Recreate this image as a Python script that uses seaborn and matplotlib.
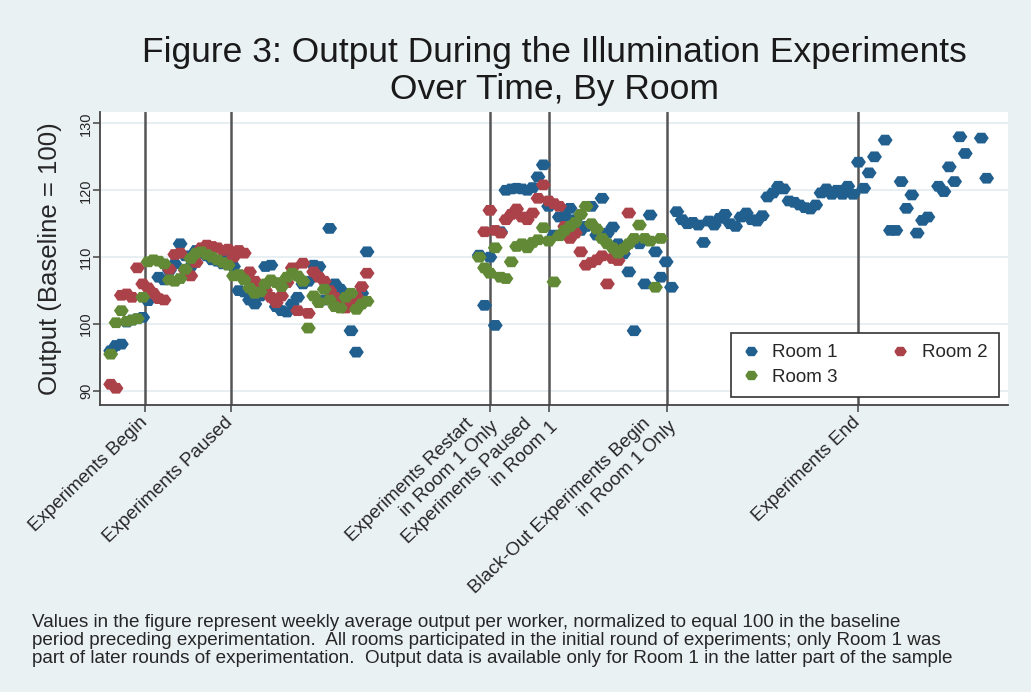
import matplotlib

matplotlib.use("Agg")

import matplotlib.pyplot as plt
import pandas as pd
import seaborn as sns
from matplotlib.lines import Line2D
from matplotlib.path import Path
from matplotlib.transforms import ScaledTranslation, blended_transform_factory


# weekly average output per worker (baseline = 100)
ROOM1_WEEKS = list(range(2, 51)) + list(range(71, 142)) + [
    142, 143, 144, 145, 147, 148, 149, 150, 151, 152, 153,
    154, 155, 157, 158, 159, 160, 161, 162, 165, 166,
]
ROOM1_OUTPUT = [
    # weeks 2-50
    96.0, 96.8, 97.0, 100.3, 100.6, 100.8, 101.0, 103.5, 104.0, 107.0,
    106.6, 108.0, 109.0, 112.0, 110.2, 108.6, 111.0, 110.6, 110.2, 109.6,
    109.4, 109.0, 110.0, 108.6, 105.0, 104.8, 103.6, 103.0, 104.2, 108.6,
    108.8, 102.6, 102.0, 101.8, 103.0, 104.0, 106.0, 106.4, 108.8, 108.6,
    103.6, 114.3, 106.0, 105.2, 104.0, 99.0, 95.8, 104.6, 110.8,
    # weeks 71-106
    110.3, 102.8, 110.0, 99.8, 113.8, 120.0, 120.2, 120.3, 120.2, 120.0,
    120.4, 122.0, 123.8, 117.6, 113.3, 116.0, 116.2, 117.3, 115.6, 114.0,
    114.6, 117.6, 113.3, 118.8, 113.6, 114.5, 112.0, 110.5, 107.8, 99.0,
    112.0, 106.0, 116.3, 110.8, 107.0, 109.3,
    # weeks 107-141
    105.5, 116.8, 115.6, 115.0, 115.2, 114.8, 112.2, 115.4, 114.8, 115.8,
    116.4, 115.0, 114.6, 116.0, 116.6, 115.6, 115.4, 116.2, 119.0, 119.6,
    120.6, 120.2, 118.4, 118.2, 117.8, 117.4, 117.2, 117.8, 119.6, 120.2,
    119.4, 120.0, 119.4, 120.6, 119.4,
    # weeks 142-166
    124.2, 120.3, 122.6, 125.0, 127.5, 114.0, 114.0, 121.3, 117.3, 119.3,
    113.6, 115.5, 116.0, 120.6, 119.8, 123.5, 121.3, 128.0, 125.5, 127.8,
    121.8,
]

ROOM2_WEEKS = list(range(2, 51)) + list(range(72, 100))
ROOM2_OUTPUT = [
    91.0, 90.4, 104.3, 104.5, 104.0, 108.4, 106.0, 105.4, 104.6, 103.8,
    103.6, 108.2, 110.4, 110.6, 108.0, 107.2, 109.2, 111.4, 111.8, 111.6,
    111.4, 111.0, 111.2, 110.0, 111.0, 110.6, 107.8, 106.4, 105.8, 105.0,
    104.0, 103.2, 104.2, 106.2, 108.4, 102.0, 109.1, 101.6, 107.8, 107.0,
    106.4, 105.0, 104.0, 103.0, 102.4, 103.4, 104.2, 105.6, 107.6,
    113.8, 117.0, 114.0, 113.6, 115.6, 116.4, 117.2, 116.0, 115.6, 116.6,
    118.8, 120.8, 118.4, 118.0, 117.6, 114.6, 112.8, 113.6, 110.8, 108.8,
    109.2, 109.6, 110.2, 106.0, 109.8, 109.5, 111.2, 116.6,
]

ROOM3_WEEKS = list(range(2, 51)) + list(range(71, 106))
ROOM3_OUTPUT = [
    95.5, 100.2, 102.0, 100.4, 100.6, 100.8, 104.0, 109.3, 109.6, 109.4,
    109.0, 106.6, 106.4, 106.8, 108.2, 109.8, 110.6, 110.8, 110.4, 110.0,
    109.6, 109.2, 108.8, 107.2, 107.4, 106.6, 105.4, 104.6, 104.8, 106.0,
    106.6, 106.2, 105.6, 107.0, 107.6, 107.2, 106.4, 99.4, 104.2, 103.2,
    105.2, 103.6, 102.6, 102.4, 104.0, 104.6, 102.2, 103.0, 103.4,
    110.0, 108.4, 107.6, 111.4, 107.0, 106.8, 109.3, 111.6, 112.0, 111.4,
    112.2, 112.6, 114.4, 112.4, 106.3, 113.2, 114.0, 114.6, 115.2, 116.4,
    117.6, 115.0, 114.2, 112.8, 112.0, 111.4, 110.6, 111.2, 112.0, 112.8,
    114.8, 112.8, 112.4, 105.5, 112.8,
]

EVENT_WEEKS = [8.5, 24.5, 73, 84, 106.2, 142]
EVENT_LABELS = [
    "Experiments Begin",
    "Experiments Paused",
    "Experiments Restart\nin Room 1 Only",
    "Experiments Paused\nin Room 1",
    "Black-Out Experiments Begin\nin Room 1 Only",
    "Experiments End",
]
Y_TICKS = [90, 100, 110, 120, 130]

TITLE = "Figure 3: Output During the Illumination Experiments\nOver Time, By Room"
Y_LABEL = "Output (Baseline = 100)"
NOTE_LINES = [
    "Values in the figure represent weekly average output per worker, normalized to equal 100 in the baseline",
    "period preceding experimentation.  All rooms participated in the initial round of experiments; only Room 1 was",
    "part of later rounds of experimentation.  Output data is available only for Room 1 in the latter part of the sample",
]

ROOMS = ["Room 1", "Room 2", "Room 3"]
COLORS = {"Room 1": "#215f8f", "Room 2": "#ab424a", "Room 3": "#628a36"}
BG = "#eaf1f3"
INK = "#262626"

# wide, flattened diamond like the blurry Stata markers
MARKER = Path([(-1, 0), (-0.5, 0.72), (0.5, 0.72), (1, 0), (0.5, -0.72), (-0.5, -0.72), (-1, 0)])


def build_frame() -> pd.DataFrame:
    parts = [
        pd.DataFrame({"Week": ROOM1_WEEKS, "Output": ROOM1_OUTPUT, "Room": "Room 1"}),
        pd.DataFrame({"Week": ROOM2_WEEKS, "Output": ROOM2_OUTPUT, "Room": "Room 2"}),
        pd.DataFrame({"Week": ROOM3_WEEKS, "Output": ROOM3_OUTPUT, "Room": "Room 3"}),
    ]
    return pd.concat(parts, ignore_index=True)


def main() -> None:
    df = build_frame()

    sns.set_theme(style="white")
    plt.rcParams["font.family"] = ["Liberation Sans", "DejaVu Sans"]

    fig = plt.figure(figsize=(10.31, 6.92), dpi=100, facecolor=BG)
    ax = fig.add_axes([100 / 1031, 1 - 405 / 692, 908 / 1031, 293 / 692])
    ax.set_facecolor("white")

    for y in Y_TICKS:
        ax.axhline(y, color="#e6eef1", lw=1.3, zorder=0)
    for week in EVENT_WEEKS:
        ax.axvline(week, color="#555555", lw=1.8, zorder=1)

    sns.scatterplot(
        data=df, x="Week", y="Output", hue="Room", hue_order=ROOMS, palette=COLORS,
        marker=MARKER, s=115, linewidth=0, edgecolor="none", legend=False, ax=ax, zorder=3,
    )

    ax.set_xlim(0, 170)
    ax.set_ylim(87.9, 131.7)
    for side in ["top", "right"]:
        ax.spines[side].set_visible(False)
    for side in ["left", "bottom"]:
        ax.spines[side].set_color("#444444")
        ax.spines[side].set_linewidth(1.3)

    ax.set_yticks(Y_TICKS)
    ax.set_yticklabels([str(v) for v in Y_TICKS], rotation=90, va="center", fontsize=10.5, color=INK)
    ax.set_xticks(EVENT_WEEKS)
    ax.set_xticklabels([])
    ax.tick_params(axis="both", direction="out", length=5, width=1.1, color="#444444", left=True, bottom=True)
    ax.tick_params(axis="y", pad=0)
    ax.set_xlabel("")
    ax.set_ylabel(Y_LABEL, fontsize=18.5, color=INK, labelpad=12)

    # rotated event labels, each line placed by hand like Stata does
    base = blended_transform_factory(ax.transData, ax.transAxes)
    for week, label in zip(EVENT_WEEKS, EVENT_LABELS):
        lines = label.split("\n")
        for i, line in enumerate(lines):
            if len(lines) == 1:
                along, perp = -11, 10
            else:
                along, perp = -25 + 16 * i, -2 + 20 * i
            dx = (along + perp) * 0.7071 / 100
            dy = (along - perp) * 0.7071 / 100
            ax.text(
                week, 0, line, transform=base + ScaledTranslation(dx, dy, fig.dpi_scale_trans),
                rotation=44, rotation_mode="anchor", ha="right", va="center",
                fontsize=13.5, color=INK,
            )

    handles = [
        Line2D([], [], marker=MARKER, linestyle="", color=COLORS[room], markersize=8)
        for room in ["Room 1", "Room 3", "Room 2"]
    ]
    leg = ax.legend(
        handles, ["Room 1", "Room 3", "Room 2"], ncol=2, loc="lower right",
        bbox_to_anchor=(0.990, 0.027), borderaxespad=0, fontsize=13.5, frameon=True,
        fancybox=False, framealpha=1, edgecolor="#333333", handlelength=0.9,
        handletextpad=0.7, columnspacing=2.9, borderpad=0.6, labelspacing=0.4,
    )
    leg.get_frame().set_linewidth(1.2)
    for text in leg.get_texts():
        text.set_color(INK)

    fig.text(554 / 1031, 1 - 71 / 692, TITLE, ha="center", va="center",
             fontsize=25.5, color="#1a1a1a", linespacing=1.12)

    for i, line in enumerate(NOTE_LINES):
        fig.text(32 / 1031, 1 - (627 + 18 * i) / 692, line, ha="left", va="baseline",
                 fontsize=13.6, color=INK)

    fig.savefig("out.png", dpi=100, facecolor=BG)
    plt.close(fig)


if __name__ == "__main__":
    main()
